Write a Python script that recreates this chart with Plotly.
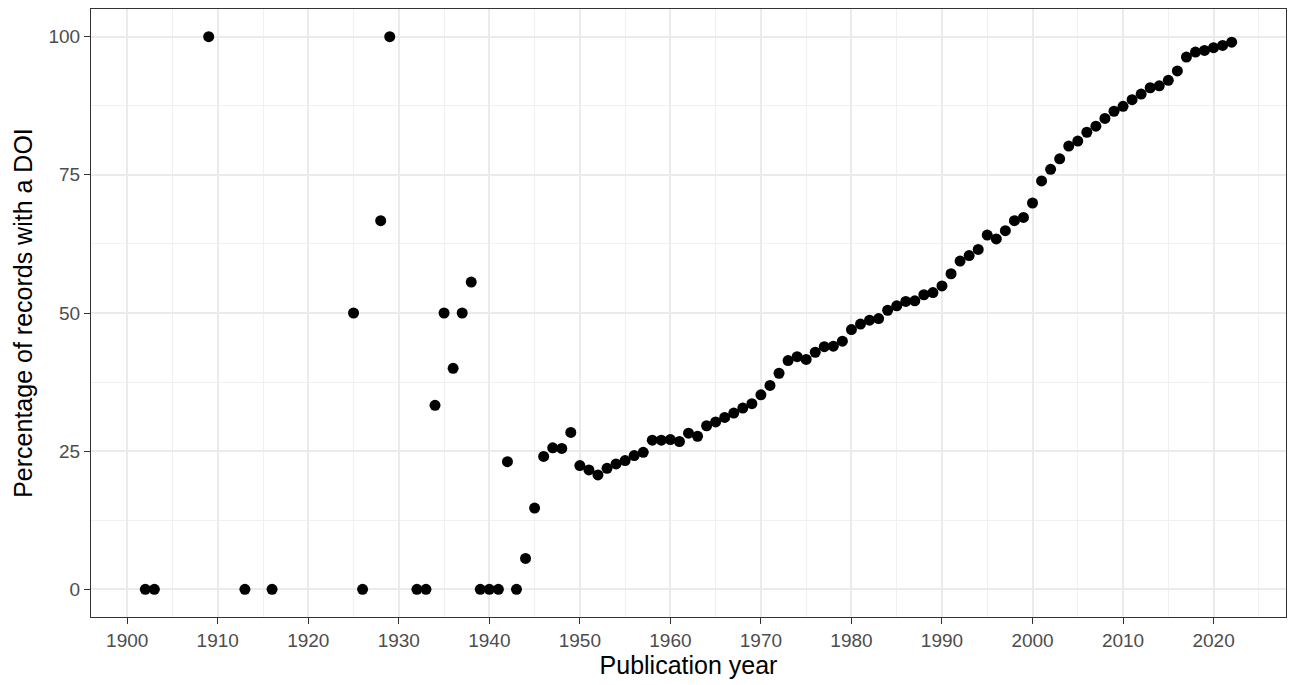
import plotly.graph_objects as go

years = [1902, 1903, 1909, 1913, 1916, 1925, 1926, 1928, 1929, 1932, 1933, 1934, 1935, 1936,
         1937, 1938, 1939, 1940, 1941, 1942, 1943, 1944, 1945, 1946, 1947, 1948, 1949,
         1950, 1951, 1952, 1953, 1954, 1955, 1956, 1957, 1958, 1959, 1960, 1961, 1962,
         1963, 1964, 1965, 1966, 1967, 1968, 1969, 1970, 1971, 1972, 1973, 1974, 1975,
         1976, 1977, 1978, 1979, 1980, 1981, 1982, 1983, 1984, 1985, 1986, 1987, 1988,
         1989, 1990, 1991, 1992, 1993, 1994, 1995, 1996, 1997, 1998, 1999, 2000, 2001,
         2002, 2003, 2004, 2005, 2006, 2007, 2008, 2009, 2010, 2011, 2012, 2013, 2014,
         2015, 2016, 2017, 2018, 2019, 2020, 2021, 2022]

pct_doi = [0, 0, 100, 0, 0, 50, 0, 66.7, 100, 0, 0, 33.3, 50, 40,
           50, 55.6, 0, 0, 0, 23.1, 0, 5.6, 14.7, 24.05, 25.6, 25.5, 28.4,
           22.4, 21.6, 20.7, 21.9, 22.7, 23.3, 24.2, 24.8, 27.0, 27.0, 27.1, 26.75, 28.25,
           27.7, 29.6, 30.3, 31.1, 31.9, 32.8, 33.6, 35.2, 36.9, 39.1, 41.4, 42.1, 41.6,
           42.9, 43.9, 44.0, 44.9, 47.0, 48.0, 48.7, 49.0, 50.5, 51.3, 52.1, 52.2, 53.3,
           53.7, 54.9, 57.1, 59.4, 60.4, 61.5, 64.1, 63.4, 64.9, 66.7, 67.3, 69.9, 73.9,
           76.0, 77.9, 80.2, 81.1, 82.7, 83.8, 85.2, 86.5, 87.4, 88.6, 89.6, 90.75, 91.1,
           92.1, 93.8, 96.3, 97.2, 97.5, 98.0, 98.4, 99.0]

x_ticks = [1900, 1910, 1920, 1930, 1940, 1950, 1960, 1970, 1980, 1990, 2000, 2010, 2020]
y_ticks = [0, 25, 50, 75, 100]

FONT = "Liberation Sans"

fig = go.Figure()
fig.add_trace(go.Scatter(
    x=years, y=pct_doi, mode="markers",
    marker=dict(color="black", size=11, line=dict(width=0)),
    showlegend=False, hoverinfo="x+y",
))

axis_common = dict(
    showline=True, linecolor="#333333", linewidth=1.2, mirror=True,
    ticks="outside", ticklen=6, tickwidth=1.3, tickcolor="#333333",
    showgrid=True, gridcolor="#EBEBEB", gridwidth=1.8,
    zeroline=False,
    tickfont=dict(family=FONT, size=19, color="#4D4D4D"),
)

fig.update_xaxes(
    range=[1896, 2028], tickvals=x_ticks, ticktext=[str(v) for v in x_ticks],
    minor=dict(dtick=5, tick0=1895, showgrid=True, gridcolor="#F0F0F0", gridwidth=1.1, ticks=""),
    title=dict(text="Publication year", font=dict(family=FONT, size=25, color="black"), standoff=5),
    **axis_common,
)
fig.update_yaxes(
    range=[-5, 105], tickvals=y_ticks, ticktext=[str(v) for v in y_ticks],
    minor=dict(dtick=12.5, tick0=0, showgrid=True, gridcolor="#F0F0F0", gridwidth=1.1, ticks=""),
    title=dict(text="Percentage of records with a DOI", font=dict(family=FONT, size=25, color="black"), standoff=8),
    **axis_common,
)

fig.update_layout(
    width=1291, height=685,
    margin=dict(l=91, r=5, t=9, b=68, autoexpand=False),
    plot_bgcolor="white", paper_bgcolor="white",
    font=dict(family=FONT),
)

fig.write_html("out.html", config={"displayModeBar": False},
               post_script="document.body.style.margin='0';document.body.style.overflow='hidden';")
